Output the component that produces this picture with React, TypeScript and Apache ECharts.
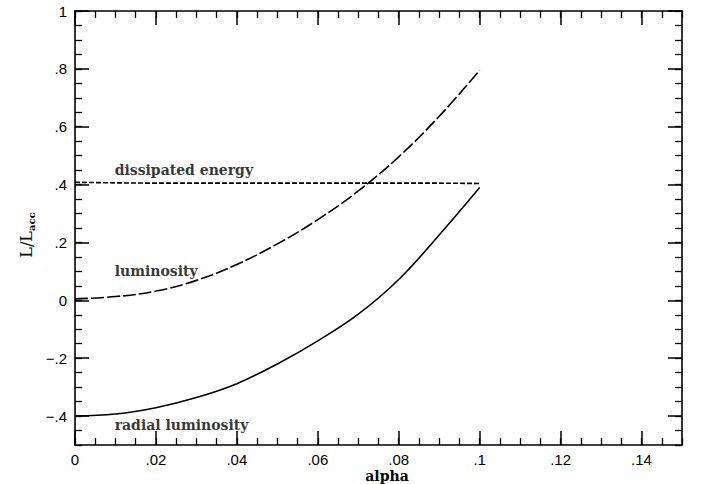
import React, { useEffect, useRef } from 'react';
import * as echarts from 'echarts';

// alpha values (x)
const alpha = [0, 0.01, 0.02, 0.03, 0.04, 0.05, 0.06, 0.07, 0.08, 0.09, 0.1];
// L/Lacc curves
const dissipated = [0.408, 0.406, 0.405, 0.405, 0.405, 0.405, 0.405, 0.405, 0.405, 0.405, 0.404];
const luminosity = [0.005, 0.013, 0.032, 0.069, 0.124, 0.195, 0.279, 0.378, 0.496, 0.636, 0.795];
const radial = [-0.4, -0.393, -0.371, -0.336, -0.288, -0.22, -0.14, -0.048, 0.072, 0.226, 0.39];

// tick values
const xMajor = [0, 0.02, 0.04, 0.06, 0.08, 0.1, 0.12, 0.14];
const yMajor = [-0.4, -0.2, 0, 0.2, 0.4, 0.6, 0.8, 1];

// annotation labels: [x, y, text]
const labelX = [0.0098, 0.0098, 0.0098];
const labelY = [0.45, 0.103, -0.43];
const labelText = ['dissipated energy', 'luminosity', 'radial luminosity'];

const fmt = (v: number) => {
  if (Math.abs(v) < 1e-9) return '0';
  let s = String(+v.toFixed(3));
  s = s.replace(/^(-?)0\./, '$1.');
  return s.replace('-', '\u2212');
};

const tickFont = { color: '#000', fontFamily: 'Liberation Sans', fontSize: 15 };
const serif = 'DejaVu Serif';
const lineSty = { show: true, onZero: false, lineStyle: { color: '#000', width: 1.6 } };

export default function App() {
  const ref = useRef<HTMLDivElement>(null);
  useEffect(() => {
    const chart = echarts.init(ref.current!, null, { renderer: 'svg' });
    const pair = (a: number[]) => alpha.map((x, i) => [x, a[i]]);
    const xBase = { type: 'value', min: 0, max: 0.15, splitLine: { show: false } };
    const yBase = { type: 'value', min: -0.5, max: 1, splitLine: { show: false } };
    const majTick = (vals: number[]) => ({ show: true, inside: true, length: 14, customValues: vals, lineStyle: { color: '#000', width: 1.5 } });
    const minTick = { show: true, inside: true, length: 7, lineStyle: { color: '#000', width: 1.3 } };
    chart.setOption({
      animation: false,
      backgroundColor: '#fff',
      grid: { left: 75, right: 19, top: 11, bottom: 39, containLabel: false, outerBoundsMode: 'none' },
      xAxis: [
        {
          ...xBase, position: 'bottom', axisLine: lineSty, axisTick: majTick(xMajor),
          axisLabel: { ...tickFont, customValues: xMajor, formatter: fmt, margin: 7 },
          name: 'alpha', nameLocation: 'middle', nameGap: 24, nameMoveOverlap: false,
          nameTextStyle: { color: '#000', fontFamily: serif, fontWeight: 'bold', fontSize: 14, padding: [0, 0, 0, 17] },
        },
        { ...xBase, position: 'bottom', interval: 0.005, axisLine: { show: false, onZero: false }, axisTick: minTick, axisLabel: { show: false } },
        { ...xBase, position: 'top', axisLine: lineSty, axisTick: majTick(xMajor), axisLabel: { show: false } },
        { ...xBase, position: 'top', interval: 0.005, axisLine: { show: false, onZero: false }, axisTick: minTick, axisLabel: { show: false } },
      ],
      yAxis: [
        {
          ...yBase, position: 'left', axisLine: lineSty, axisTick: majTick(yMajor),
          axisLabel: { ...tickFont, customValues: yMajor, formatter: fmt, margin: 8 },
          name: '{a|L/L}{b|acc}', nameLocation: 'middle', nameRotate: 90, nameGap: 39, nameMoveOverlap: false,
          nameTextStyle: {
            color: '#000', padding: [0, 0, 0, -14],
            rich: {
              a: { fontFamily: serif, fontSize: 16, color: '#000', lineHeight: 19 },
              b: { fontFamily: serif, fontSize: 10, fontWeight: 'bold', color: '#000', verticalAlign: 'bottom', lineHeight: 19 },
            },
          },
        },
        { ...yBase, position: 'left', interval: 0.05, axisLine: { show: false, onZero: false }, axisTick: minTick, axisLabel: { show: false } },
        { ...yBase, position: 'right', axisLine: lineSty, axisTick: majTick(yMajor), axisLabel: { show: false } },
        { ...yBase, position: 'right', interval: 0.05, axisLine: { show: false, onZero: false }, axisTick: minTick, axisLabel: { show: false } },
      ],
      series: [
        {
          name: 'dissipated energy', type: 'line', data: pair(dissipated), showSymbol: false, smooth: false,
          lineStyle: { color: '#000', width: 1.6, type: [5, 2] },
        },
        {
          name: 'luminosity', type: 'line', data: pair(luminosity), showSymbol: false, smooth: 0.4,
          lineStyle: { color: '#000', width: 1.6, type: [13, 3] },
        },
        {
          name: 'radial luminosity', type: 'line', data: pair(radial), showSymbol: false, smooth: 0.4,
          lineStyle: { color: '#000', width: 1.6 },
        },
        {
          type: 'scatter', symbolSize: 0, silent: true,
          data: labelX.map((x, i) => [x, labelY[i], labelText[i]]),
          label: {
            show: true, position: 'right', distance: 0, formatter: (p: any) => p.data[2],
            color: '#000', fontFamily: serif, fontWeight: 'bold', fontSize: 14,
          },
        },
      ],
    });
    return () => chart.dispose();
  }, []);
  return <div ref={ref} style={{ position: 'absolute', left: 0, top: 0, width: 701, height: 484, background: '#fff' }} />;
}
